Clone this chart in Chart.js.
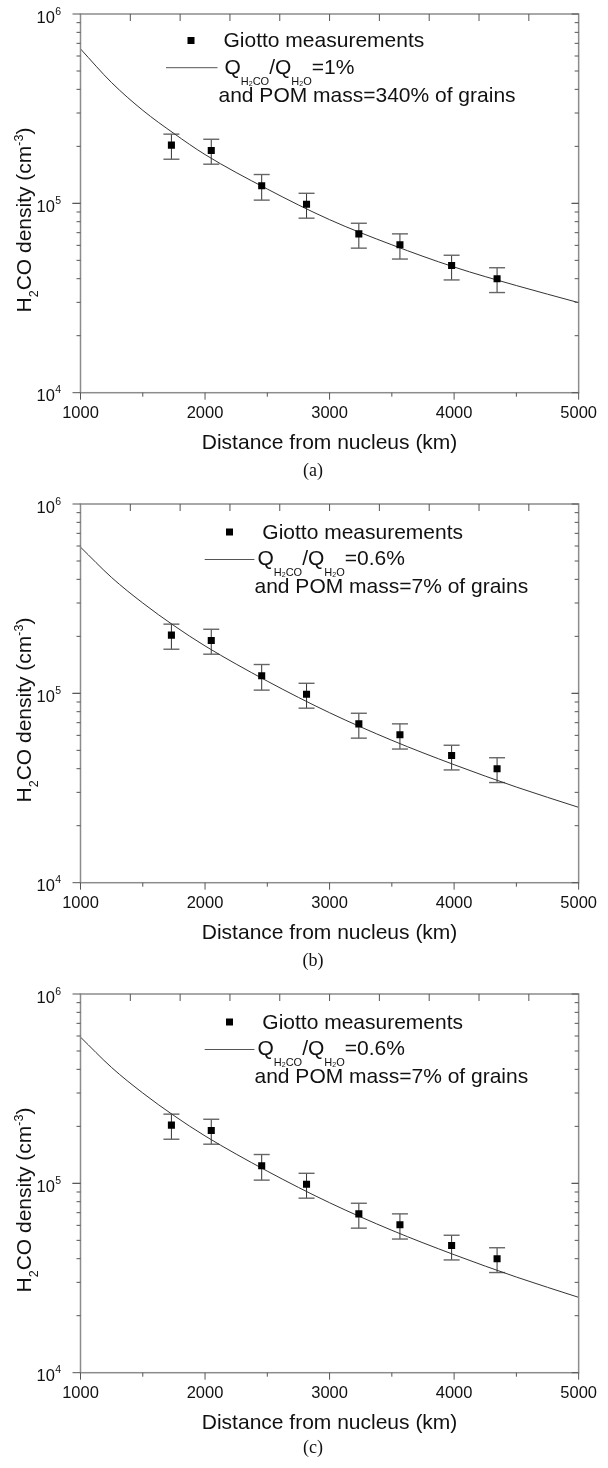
<!DOCTYPE html>
<html>
<head>
<meta charset="utf-8">
<script src="https://cdn.jsdelivr.net/npm/chart.js@4.4.1/dist/chart.umd.min.js"></script>
<style>
  html, body { margin: 0; padding: 0; background: #fff; }
  .panel { position: absolute; left: 0; width: 608px; }
</style>
</head>
<body>
<div class="panel" style="top:0px"><canvas id="chartA" width="608" height="490"></canvas></div>
<div class="panel" style="top:490px"><canvas id="chartB" width="608" height="490"></canvas></div>
<div class="panel" style="top:980px"><canvas id="chartC" width="608" height="488"></canvas></div>
<script>
// Giotto measurements (distance in km, H2CO density in cm^-3)
const distKm     = [1730, 2050, 2455, 2815, 3235, 3565, 3980, 4345];
const densGiotto = [2.03e5, 1.90e5, 1.24e5, 9.9e4, 6.9e4, 6.05e4, 4.7e4, 4.0e4];
const errHigh    = [2.32e5, 2.18e5, 1.42e5, 1.13e5, 7.85e4, 6.9e4, 5.32e4, 4.57e4];
const errLow     = [1.71e5, 1.61e5, 1.04e5, 8.35e4, 5.8e4, 5.08e4, 3.94e4, 3.38e4];

// model curves
const modelDist = [1000, 1250, 1500, 1750, 2000, 2500, 3000, 3500, 4000, 4500, 5000];
const modelA    = [6.54e5, 4.34e5, 3.10e5, 2.34e5, 1.81e5, 1.19e5, 8.2e4, 6.04e4, 4.61e4, 3.68e4, 2.99e4];
const modelB    = [5.92e5, 4.09e5, 3.0e5, 2.28e5, 1.78e5, 1.16e5, 7.9e4, 5.65e4, 4.2e4, 3.2e4, 2.5e4];

// axis ticks
const xTicks      = [1000, 2000, 3000, 4000, 5000];
const xMinorTicks = [1500, 2500, 3500, 4500];
const topTicks    = [1400, 1800, 2200, 2600, 3000, 3400, 3800, 4200, 4600];
const yDecades    = [1e4, 1e5, 1e6];

const FONT = "'Liberation Sans', Arial, sans-serif";
const SERIF = "'Liberation Serif', 'Times New Roman', serif";
const PLOT_H = 378.7;

function seg(ctx, x1, y1, x2, y2) {
    ctx.beginPath();
    ctx.moveTo(x1, y1);
    ctx.lineTo(x2, y2);
    ctx.stroke();
}

// parts: [text, fontSize, dy]
function richWidth(ctx, parts) {
    let w = 0;
    parts.forEach(([t, size]) => {
        ctx.font = size + 'px ' + FONT;
        w += ctx.measureText(t).width;
    });
    return w;
}
function richText(ctx, x, y, parts) {
    let cx = x;
    parts.forEach(([t, size, dy]) => {
        ctx.font = size + 'px ' + FONT;
        ctx.fillText(t, cx, y + dy);
        cx += ctx.measureText(t).width;
    });
}

const framePlugin = {
    id: 'frame',
    beforeDatasetsDraw(chart) {
        const { ctx, scales: { x, y } } = chart;
        ctx.save();
        distKm.forEach((d, i) => {
            const px = x.getPixelForValue(d);
            const top = y.getPixelForValue(errHigh[i]);
            const bot = y.getPixelForValue(errLow[i]);
            ctx.strokeStyle = '#333';
            ctx.lineWidth = 1;
            seg(ctx, px, top, px, bot);
            ctx.strokeStyle = '#666';
            ctx.lineWidth = 1.4;
            seg(ctx, px - 8, top, px + 8, top);
            seg(ctx, px - 8, bot, px + 8, bot);
        });
        ctx.restore();
    },
    afterDraw(chart, args, opts) {
        const { ctx, chartArea: a, scales: { x, y } } = chart;
        ctx.save();

        // frame
        ctx.strokeStyle = '#8c8c8c';
        ctx.lineWidth = 1.5;
        ctx.strokeRect(a.left, a.top, a.right - a.left, a.bottom - a.top);

        // ticks
        ctx.strokeStyle = '#555';
        ctx.lineWidth = 1;
        xTicks.forEach(v => {
            const px = x.getPixelForValue(v);
            seg(ctx, px, a.bottom, px, a.bottom + 7);
        });
        xMinorTicks.forEach(v => {
            const px = x.getPixelForValue(v);
            seg(ctx, px, a.bottom, px, a.bottom + 4);
        });
        topTicks.forEach(v => {
            const px = x.getPixelForValue(v);
            seg(ctx, px, a.top, px, a.top + 7);
        });
        [1e4, 1e5].forEach(dec => {
            for (let k = 1; k <= 10; k++) {
                const v = dec * k;
                const py = y.getPixelForValue(v);
                const major = (k === 1 || k === 10);
                seg(ctx, a.left - (major ? 8 : 4), py, a.left, py);
                seg(ctx, a.right - (major ? 7 : 4), py, a.right, py);
            }
        });

        // y tick labels 10^n
        ctx.fillStyle = '#111';
        ctx.textAlign = 'left';
        ctx.textBaseline = 'alphabetic';
        yDecades.forEach(v => {
            const py = y.getPixelForValue(v);
            const exp = Math.round(Math.log10(v));
            ctx.font = '16.5px ' + FONT;
            ctx.fillText('10', 36.5, py + 8.6);
            const w = ctx.measureText('10').width;
            ctx.font = '10.5px ' + FONT;
            ctx.fillText(String(exp), 36.5 + w + 0.5, py + 0.5);
        });

        // y axis title, rotated
        const yParts = [['H', 21, 0], ['2', 12.5, 7], ['CO density (cm', 21, 0], ['-3', 12.5, -7.7], [')', 21, 0]];
        const tw = richWidth(ctx, yParts);
        ctx.save();
        ctx.translate(31, 220);
        ctx.rotate(-Math.PI / 2);
        richText(ctx, -tw / 2, 0, yParts);
        ctx.restore();

        // legend
        const lg = opts.legend;
        ctx.fillStyle = '#000';
        ctx.fillRect(lg.sq[0] - 3.5, lg.sq[1] - 3.5, 7, 7);
        ctx.fillStyle = '#111';
        ctx.font = '21px ' + FONT;
        ctx.fillText('Giotto measurements', lg.giotto[0], lg.giotto[1]);
        ctx.strokeStyle = '#555';
        ctx.lineWidth = 1;
        seg(ctx, lg.line[0], lg.line[2], lg.line[1], lg.line[2]);
        richText(ctx, lg.q[0], lg.q[1], [
            ['Q', 21, 0], ['H', 11, 11], ['2', 7, 12], ['CO', 11, 11],
            ['/Q', 21, 0], ['H', 11, 11], ['2', 7, 12], ['O', 11, 11],
            [lg.ratio, 21, 0]
        ]);
        ctx.font = '21px ' + FONT;
        ctx.fillText(lg.l2text, lg.l2[0], lg.l2[1]);

        // caption
        ctx.font = '18px ' + SERIF;
        ctx.textAlign = 'center';
        ctx.fillText(opts.caption, 313, opts.captionY);

        ctx.restore();
    }
};

function makeChart(id, model, legend, caption, captionY) {
    const canvas = document.getElementById(id);
    const chartH = canvas.height;
    return new Chart(canvas, {
        type: 'scatter',
        data: {
            datasets: [{
                label: 'Giotto measurements',
                data: distKm.map((d, i) => ({ x: d, y: densGiotto[i] })),
                pointStyle: 'rect',
                pointRadius: 5,
                pointBorderWidth: 0,
                backgroundColor: '#000',
                borderColor: '#000'
            }, {
                label: 'model',
                data: modelDist.map((d, i) => ({ x: d, y: model[i] })),
                showLine: true,
                borderColor: '#333',
                borderWidth: 1,
                pointRadius: 0,
                cubicInterpolationMode: 'monotone'
            }]
        },
        options: {
            responsive: false,
            animation: false,
            devicePixelRatio: 1,
            layout: { padding: { top: 14, right: 21, left: 0, bottom: 0 } },
            plugins: {
                legend: { display: false },
                tooltip: { enabled: false },
                frame: { legend: legend, caption: caption, captionY: captionY }
            },
            scales: {
                x: {
                    type: 'linear', min: 1000, max: 5000,
                    grid: { display: false, drawTicks: false },
                    border: { display: false },
                    ticks: {
                        stepSize: 1000, padding: 11, maxRotation: 0, color: '#111',
                        font: { family: FONT, size: 16.5 },
                        callback: v => String(v)
                    },
                    title: {
                        display: true, text: 'Distance from nucleus (km)', color: '#111',
                        font: { family: FONT, size: 21 },
                        padding: { top: 0, bottom: chartH - 12.6 - 443.3 }
                    },
                    afterFit: s => { s.height = chartH - 14 - PLOT_H; }
                },
                y: {
                    type: 'logarithmic', min: 1e4, max: 1e6,
                    grid: { display: false, drawTicks: false },
                    border: { display: false },
                    ticks: { display: false },
                    afterFit: s => { s.width = 80.5; }
                }
            }
        },
        plugins: [framePlugin]
    });
}

const legendA = {
    sq: [191, 40.5], giotto: [223.5, 47.3], line: [166, 217.5, 67.7],
    q: [224.5, 74], ratio: '=1%', l2: [218.5, 101.7], l2text: 'and POM mass=340% of grains'
};
const legendB = {
    sq: [229.5, 42], giotto: [262.3, 48.8], line: [204.7, 254.4, 69.5],
    q: [257.5, 75], ratio: '=0.6%', l2: [254.5, 103], l2text: 'and POM mass=7% of grains'
};

makeChart('chartA', modelA, legendA, '(a)', 476);
makeChart('chartB', modelB, legendB, '(b)', 476);
makeChart('chartC', modelB, legendB, '(c)', 473);
</script>
</body>
</html>
